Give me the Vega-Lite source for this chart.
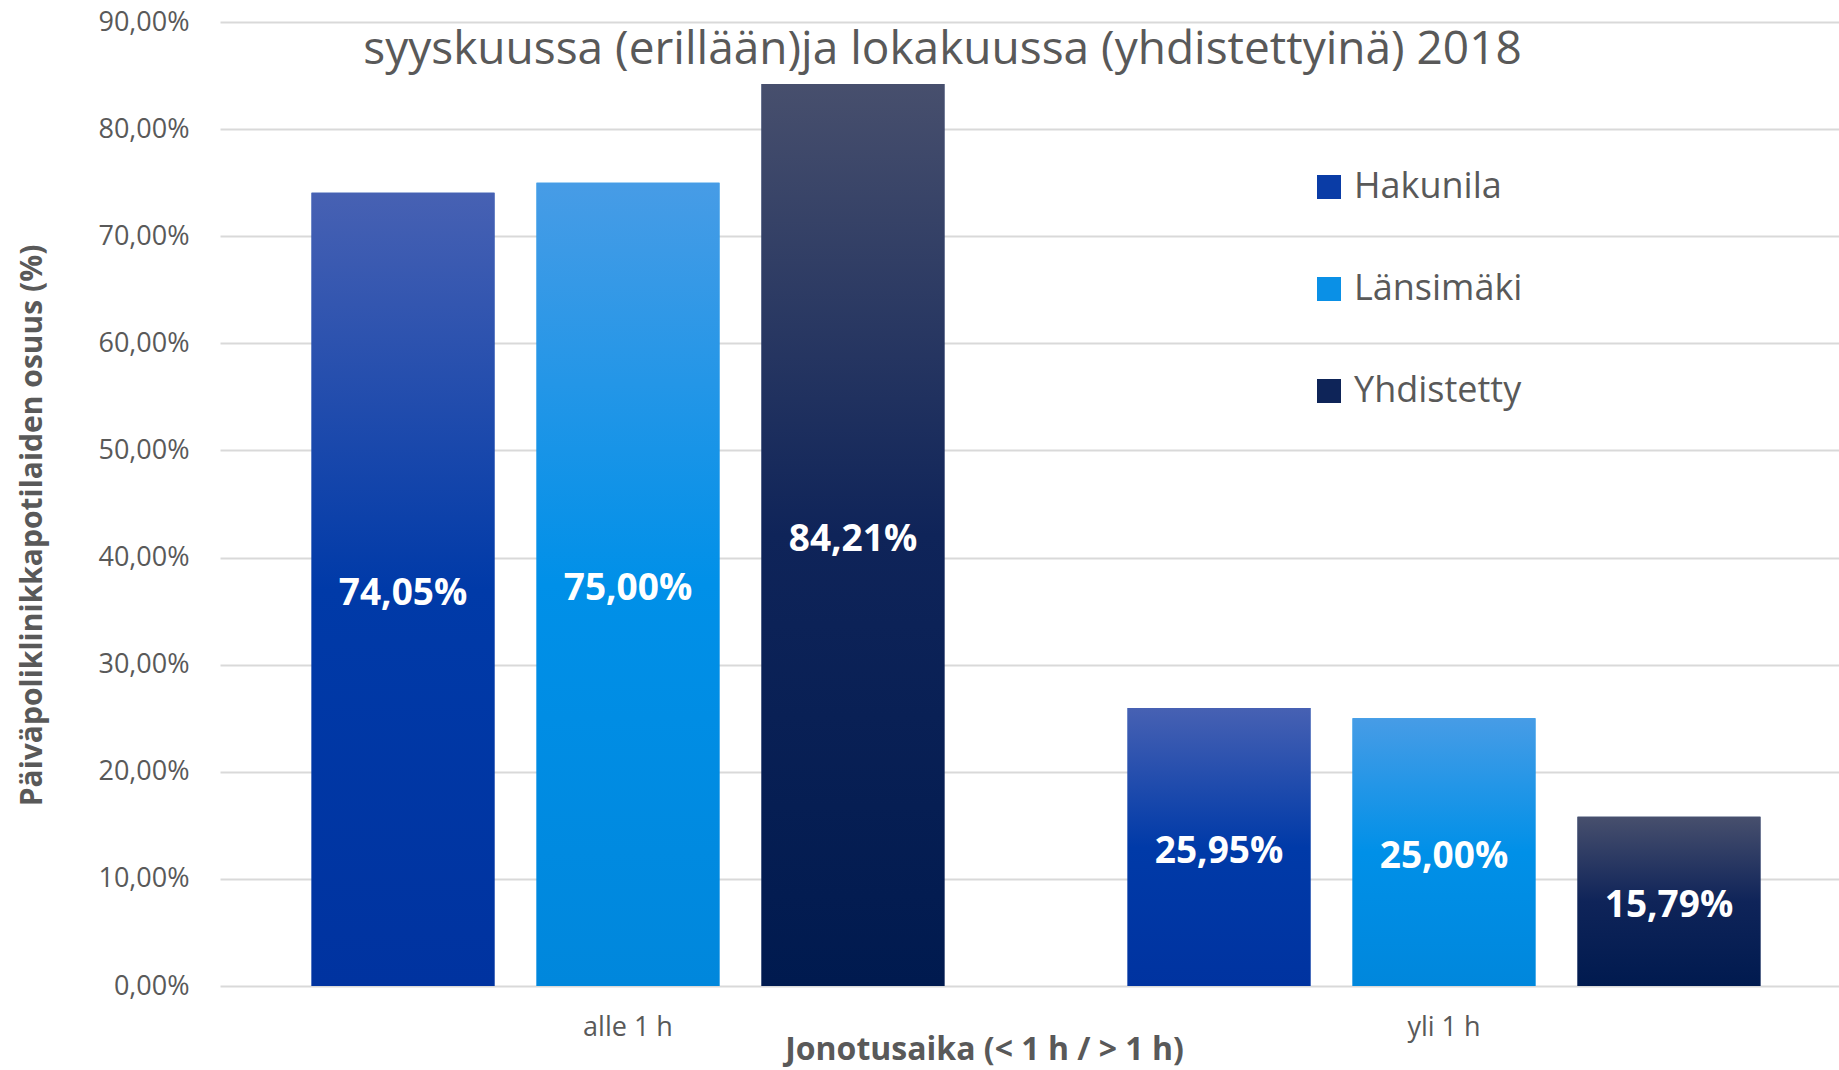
{
  "$schema": "https://vega.github.io/schema/vega-lite/v6.json",
  "autosize": "none",
  "width": 1619,
  "height": 964,
  "padding": {"left": 220, "top": 22, "right": 0, "bottom": 84},
  "background": "white",
  "config": {
    "font": "Open Sans",
    "view": {"stroke": null},
    "locale": {"number": {"decimal": ",", "thousands": "\u00a0", "grouping": [3], "currency": ["", "\u00a0€"]}}
  },
  "title": {
    "text": "syyskuussa (erillään)ja lokakuussa (yhdistettyinä) 2018",
    "fontSize": 46,
    "fontWeight": "normal",
    "color": "#595959",
    "font": "Open Sans",
    "anchor": "middle",
    "frame": "group",
    "dx": -87,
    "offset": -66
  },
  "data": {
    "values": [
      {"aika": "alle 1 h", "paikka": "Hakunila", "osuus": 0.7405},
      {"aika": "alle 1 h", "paikka": "Länsimäki", "osuus": 0.75},
      {"aika": "alle 1 h", "paikka": "Yhdistetty", "osuus": 0.8421},
      {"aika": "yli 1 h", "paikka": "Hakunila", "osuus": 0.2595},
      {"aika": "yli 1 h", "paikka": "Länsimäki", "osuus": 0.25},
      {"aika": "yli 1 h", "paikka": "Yhdistetty", "osuus": 0.1579}
    ]
  },
  "encoding": {
    "x": {
      "field": "aika",
      "type": "nominal",
      "sort": ["alle 1 h", "yli 1 h"],
      "scale": {"range": [0, 1632], "paddingInner": 0, "paddingOuter": 0},
      "axis": {
        "labelAngle": 0,
        "labelFontSize": 27,
        "labelColor": "#595959",
        "labelFont": "Open Sans",
        "labelPadding": 28,
        "ticks": false,
        "domain": false,
        "grid": false,
        "title": "Jonotusaika (< 1 h / > 1 h)",
        "titleFontSize": 32,
        "titleFontWeight": "bold",
        "titleColor": "#595959",
        "titleFont": "Open Sans",
        "titleX": 764,
        "titleY": 63,
        "titleAlign": "center",
        "titleBaseline": "middle"
      }
    },
    "xOffset": {
      "field": "paikka",
      "type": "nominal",
      "sort": ["Hakunila", "Länsimäki", "Yhdistetty"],
      "scale": {"paddingInner": 0.187, "paddingOuter": 0.407}
    }
  },
  "layer": [
    {
      "layer": [
        {
          "mark": {"type": "bar"},
          "encoding": {
            "color": {
              "field": "paikka",
              "type": "nominal",
              "sort": ["Hakunila", "Länsimäki", "Yhdistetty"],
              "scale": {
                "domain": ["Hakunila", "Länsimäki", "Yhdistetty"],
                "range": ["#0a3ca6", "#0a90e6", "#0e2458"]
              },
              "legend": {
                "orient": "none",
                "legendX": 1091,
                "legendY": 147,
                "title": null,
                "labelFontSize": 36,
                "labelLimit": 500,
                "labelColor": "#595959",
                "labelFont": "Open Sans",
                "symbolType": "square",
                "symbolSize": 576,
                "symbolStrokeWidth": 0,
                "rowPadding": 66,
                "labelOffset": 7
              }
            }
          }
        },
        {
          "mark": {"type": "bar"},
          "encoding": {
            "fill": {
              "condition": [
                {"test": "datum.paikka === 'Hakunila'", "value": {"gradient": "linear", "x1": 0, "y1": 0, "x2": 0, "y2": 1, "stops": [{"offset": 0, "color": "#4761b3"}, {"offset": 0.5, "color": "#003aa8"}, {"offset": 1, "color": "#0033a0"}]}},
                {"test": "datum.paikka === 'Länsimäki'", "value": {"gradient": "linear", "x1": 0, "y1": 0, "x2": 0, "y2": 1, "stops": [{"offset": 0, "color": "#479ce6"}, {"offset": 0.5, "color": "#0090e8"}, {"offset": 1, "color": "#0087dc"}]}}
              ],
              "value": {"gradient": "linear", "x1": 0, "y1": 0, "x2": 0, "y2": 1, "stops": [{"offset": 0, "color": "#474f6d"}, {"offset": 0.5, "color": "#0f2459"}, {"offset": 1, "color": "#001a4f"}]}
            }
          }
        }
      ],
      "encoding": {
        "y": {
          "field": "osuus",
          "type": "quantitative",
          "scale": {"domain": [0, 0.9], "nice": false},
          "axis": {
            "values": [0, 0.1, 0.2, 0.3, 0.4, 0.5, 0.6, 0.7, 0.8, 0.9],
            "format": ".2%",
            "grid": true,
            "gridColor": "#d9d9d9",
            "gridWidth": 2,
            "domain": false,
            "ticks": false,
            "labelPadding": 31,
            "labelFontSize": 27,
            "labelColor": "#595959",
            "labelFont": "Open Sans",
            "title": "Päiväpoliklinikkapotilaiden osuus (%)",
            "titleFontSize": 30,
            "titleFontWeight": "bold",
            "titleColor": "#595959",
            "titleFont": "Open Sans",
            "titleX": -188,
            "titleY": 503,
            "titleAngle": 270,
            "titleAlign": "center",
            "titleBaseline": "middle"
          }
        }
      }
    },
    {
      "mark": {"type": "text", "fontSize": 37, "fontWeight": "bold", "color": "white", "baseline": "middle", "align": "center", "font": "Open Sans", "dy": 5},
      "encoding": {
        "y": {"field": "osuus", "type": "quantitative", "scale": {"domain": [0, 1.8], "nice": false}, "axis": null},
        "text": {"field": "osuus", "type": "quantitative", "format": ".2%"}
      }
    }
  ],
  "resolve": {"scale": {"y": "independent"}}
}
